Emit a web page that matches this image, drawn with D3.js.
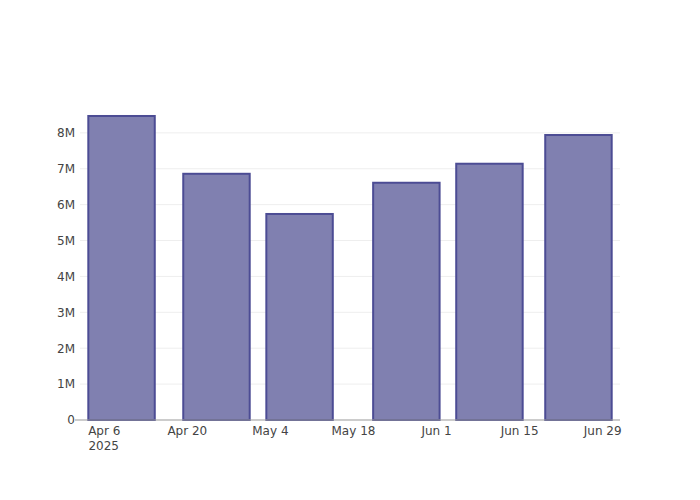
<!DOCTYPE html>
<html>
<head>
<meta charset="utf-8">
<script src="https://cdn.jsdelivr.net/npm/d3@7"></script>
<style>
  html, body { margin: 0; padding: 0; background: #fff; }
  text { font-family: "DejaVu Sans", Verdana, sans-serif; }
</style>
</head>
<body>
<svg id="chart" width="700" height="500"></svg>
<script>
const barDates = ["2025-04-09", "2025-04-25", "2025-05-09", "2025-05-27", "2025-06-10", "2025-06-25"];
const barValues = [8470000, 6860000, 5740000, 6610000, 7140000, 7940000];
const xTickDates = ["2025-04-06", "2025-04-20", "2025-05-04", "2025-05-18", "2025-06-01", "2025-06-15", "2025-06-29"];
const xTickLabels = ["Apr 6", "Apr 20", "May 4", "May 18", "Jun 1", "Jun 15", "Jun 29"];
const yTickValues = [0, 1e6, 2e6, 3e6, 4e6, 5e6, 6e6, 7e6, 8e6];
const yTickLabels = ["0", "1M", "2M", "3M", "4M", "5M", "6M", "7M", "8M"];

const W = 700, H = 500;
const margin = { l: 80, r: 80, t: 100, b: 80 };
const svg = d3.select("#chart");
const DAY = 86400000;

const dates = barDates.map(d => new Date(d + "T00:00:00Z"));
// min spacing between bars (days)
let minGap = Infinity;
for (let i = 1; i < dates.length; i++) minGap = Math.min(minGap, (dates[i] - dates[i - 1]) / DAY);
const barWidthDays = minGap * 0.8;

const x = d3.scaleUtc()
  .domain([new Date(+dates[0] - minGap / 2 * DAY), new Date(+dates[dates.length - 1] + minGap / 2 * DAY)])
  .range([margin.l, W - margin.r]);

const y = d3.scaleLinear()
  .domain([0, d3.max(barValues) * 1.0526])
  .range([H - margin.b, margin.t]);

// gridlines
svg.append("g")
  .selectAll("line")
  .data(yTickValues.filter(v => v > 0))
  .join("line")
  .attr("x1", margin.l).attr("x2", W - margin.r)
  .attr("y1", d => y(d)).attr("y2", d => y(d))
  .attr("stroke", "#eeeeee").attr("stroke-width", 1);

// bars
svg.append("g")
  .selectAll("rect")
  .data(barValues)
  .join("rect")
  .attr("x", (d, i) => x(new Date(+dates[i] - barWidthDays / 2 * DAY)))
  .attr("width", (d, i) => x(new Date(+dates[i] + barWidthDays / 2 * DAY)) - x(new Date(+dates[i] - barWidthDays / 2 * DAY)))
  .attr("y", d => y(d))
  .attr("height", d => y(0) - y(d))
  .attr("fill", "rgb(128,128,176)")
  .attr("stroke", "rgb(76,76,148)")
  .attr("stroke-width", 2);

// x axis line
svg.append("line")
  .attr("x1", margin.l).attr("x2", W - margin.r)
  .attr("y1", y(0)).attr("y2", y(0))
  .attr("stroke", "#999").attr("stroke-width", 1);

// y axis
const yAxis = d3.axisLeft(y)
  .tickValues(yTickValues)
  .tickFormat((d, i) => yTickLabels[i])
  .tickSize(0)
  .tickPadding(3);
const yg = svg.append("g").attr("transform", `translate(${margin.l - 2},0)`).call(yAxis);
yg.select(".domain").remove();
yg.selectAll("text").attr("font-size", 12).attr("fill", "#444").attr("font-family", "DejaVu Sans, Verdana, sans-serif");
// left tick marks near zero line
svg.append("line")
  .attr("x1", margin.l - 5).attr("x2", margin.l)
  .attr("y1", y(0)).attr("y2", y(0))
  .attr("stroke", "#999");

// x axis
const xTickDateObjs = xTickDates.map(d => new Date(d + "T00:00:00Z"));
const xAxis = d3.axisBottom(x)
  .tickValues(xTickDateObjs)
  .tickFormat((d, i) => xTickLabels[i])
  .tickSize(0)
  .tickPadding(6);
const xg = svg.append("g").attr("transform", `translate(0,${y(0)})`).call(xAxis);
xg.select(".domain").remove();
xg.selectAll("text").attr("font-size", 12).attr("fill", "#444").attr("font-family", "DejaVu Sans, Verdana, sans-serif");
// year label under first tick
xg.append("text")
  .attr("x", x(xTickDateObjs[0]))
  .attr("y", 6 + 15.6)
  .attr("dy", "0.71em")
  .attr("text-anchor", "middle")
  .attr("font-size", 12)
  .attr("fill", "#444")
  .attr("font-family", "DejaVu Sans, Verdana, sans-serif")
  .text("2025");
</script>
</body>
</html>
